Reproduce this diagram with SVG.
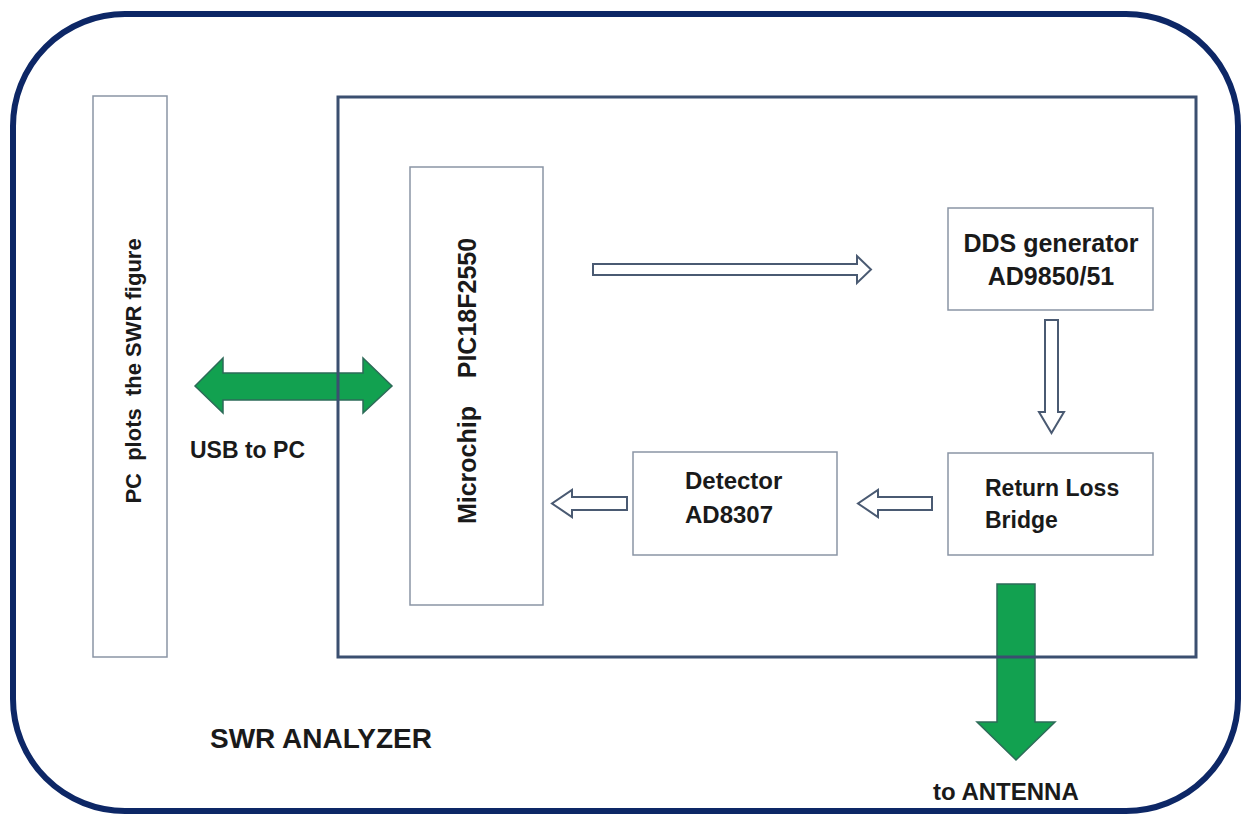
<svg xmlns="http://www.w3.org/2000/svg" width="1243" height="818" viewBox="0 0 1243 818">
<style>
.t{font-family:"Liberation Sans",Arial,sans-serif;font-weight:bold;fill:#1a1a1a}
.box{fill:#ffffff;stroke:#8a95a5;stroke-width:1.5}
.hollow{fill:#ffffff;stroke:#4a5a72;stroke-width:2;stroke-linejoin:miter}
.green{fill:#12a150;stroke:#2d6b58;stroke-width:1.5}
</style>
<rect width="1243" height="818" fill="#ffffff"/>
<g id="frame">
<rect x="13" y="14" width="1225" height="797" rx="112" ry="112" fill="#ffffff" stroke="#0d2766" stroke-width="6"/>
</g>
<g id="connectors">
<path class="hollow" d="M593,264 H857 V256 L871,269.5 L857,283 V275 H593 Z"/>
<path class="hollow" d="M1045,320 H1058 V412 H1064 L1051.5,433 L1039,412 H1045 Z"/>
<path class="hollow" d="M932,497 H878 V490 L858,503.5 L878,517 V510 H932 Z"/>
<path class="hollow" d="M627,497 H572 V490 L552,503.5 L572,517 V510 H627 Z"/>
<path class="green" d="M195,386 L223,358 V373 H363 V358 L392,386 L363,413 V400 H223 V413 Z"/>
<path class="green" d="M997,584 H1035 V722 H1055 L1016,760 L977,722 H997 Z"/>
</g>
<g id="analyzer">
<rect x="338" y="97" width="858" height="560" fill="none" stroke="#3b4f70" stroke-width="3"/>
</g>
<g id="pc">
<rect class="box" x="93" y="96" width="74" height="561"/>
<text class="t" font-size="22" text-anchor="middle" transform="translate(141,371) rotate(-90)" xml:space="preserve">PC  plots  the SWR figure</text>
</g>
<g id="microchip">
<rect class="box" x="410" y="167" width="133" height="438"/>
<text class="t" font-size="25" text-anchor="middle" transform="translate(476,381) rotate(-90)" xml:space="preserve">Microchip    PIC18F2550</text>
</g>
<g id="dds">
<rect class="box" x="948" y="208" width="205" height="102"/>
<text class="t" font-size="25" text-anchor="middle" x="1051" y="252">DDS generator</text>
<text class="t" font-size="25" text-anchor="middle" x="1051" y="285">AD9850/51</text>
</g>
<g id="bridge">
<rect class="box" x="948" y="453" width="205" height="102"/>
<text class="t" font-size="23" x="985" y="496">Return Loss</text>
<text class="t" font-size="23" x="985" y="528">Bridge</text>
</g>
<g id="detector">
<rect class="box" x="633" y="452" width="204" height="103"/>
<text class="t" font-size="24" x="685" y="489">Detector</text>
<text class="t" font-size="24" x="685" y="523">AD8307</text>
</g>
<g id="labels">
<text class="t" font-size="23" x="190" y="458">USB to PC</text>
<text class="t" font-size="24" x="933" y="800">to ANTENNA</text>
<text class="t" font-size="28" x="210" y="748">SWR ANALYZER</text>
</g>
</svg>
